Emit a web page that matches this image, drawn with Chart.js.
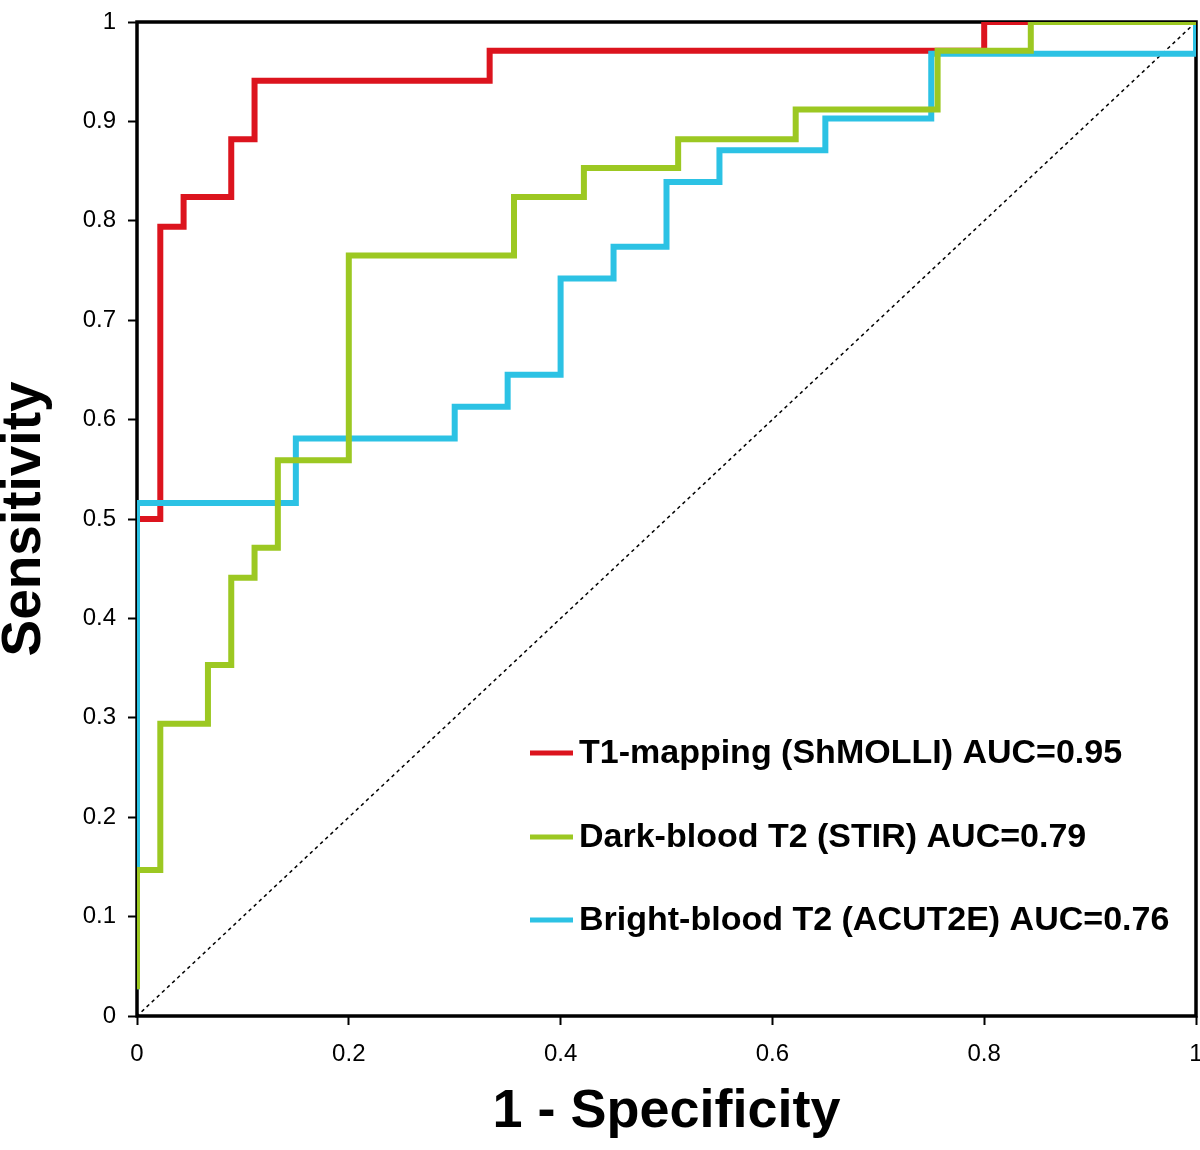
<!DOCTYPE html>
<html>
<head>
<meta charset="utf-8">
<script src="https://cdn.jsdelivr.net/npm/chart.js@4"></script>
<style>
  body { margin: 0; background: #fff; }
  #wrap { width: 1200px; height: 1150px; position: relative; }
</style>
</head>
<body>
<div id="wrap"><canvas id="roc-chart"></canvas></div>
<script>
// Series labels (legend)
const seriesLabels = [
    'T1-mapping (ShMOLLI) AUC=0.95',
    'Dark-blood T2 (STIR) AUC=0.79',
    'Bright-blood T2 (ACUT2E) AUC=0.76'
];

// ROC points, 1 - specificity (x) and sensitivity (y)
const t1X = [0, 0.022, 0.044, 0.089, 0.111, 0.333, 0.8, 1];
const t1Y = [0.5, 0.794, 0.824, 0.882, 0.941, 0.971, 1, 1];

const stirX = [0, 0, 0.022, 0.067, 0.089, 0.111, 0.133, 0.2, 0.356, 0.422, 0.511, 0.622, 0.756, 0.844, 1];
const stirY = [0.03, 0.147, 0.294, 0.353, 0.441, 0.471, 0.559, 0.765, 0.824, 0.853, 0.882, 0.912, 0.971, 1, 1];

const acutX = [0, 0, 0.15, 0.3, 0.35, 0.4, 0.45, 0.5, 0.55, 0.65, 0.75, 1, 1];
const acutY = [0.03, 0.516, 0.581, 0.613, 0.645, 0.742, 0.774, 0.839, 0.871, 0.903, 0.968, 0.968, 1];

// reference diagonal
const diagX = [0, 1];
const diagY = [0, 1];

// Tick labels
const xTickLabels = ['0', '0.2', '0.4', '0.6', '0.8', '1'];
const yTickLabels = ['0', '0.1', '0.2', '0.3', '0.4', '0.5', '0.6', '0.7', '0.8', '0.9', '1'];

const seriesColors = ['#dc141e', '#9cc822', '#2cc2e4'];

function toPoints(xs, ys) {
    return xs.map((x, i) => ({ x: x, y: ys[i] }));
}

// black frame round the plot area
const framePlugin = {
    id: 'frame',
    beforeDatasetsDraw(chart) {
        const { ctx, chartArea } = chart;
        ctx.save();
        ctx.strokeStyle = '#000';
        ctx.lineWidth = 3.5;
        ctx.strokeRect(chartArea.left, chartArea.top, chartArea.right - chartArea.left, chartArea.bottom - chartArea.top);
        ctx.restore();
    }
};

// legend inside the plot, lower right
const insideLegend = {
    id: 'insideLegend',
    afterDraw(chart) {
        const ctx = chart.ctx;
        const rowsY = [753, 837, 920];
        ctx.save();
        ctx.font = 'bold 34px "Liberation Sans", Arial, sans-serif';
        ctx.textBaseline = 'middle';
        ctx.fillStyle = '#000';
        seriesLabels.forEach((label, i) => {
            ctx.strokeStyle = seriesColors[i];
            ctx.lineWidth = 5;
            ctx.beginPath();
            ctx.moveTo(530, rowsY[i]);
            ctx.lineTo(573, rowsY[i]);
            ctx.stroke();
            ctx.fillText(label, 579, rowsY[i] + 1);
        });
        ctx.restore();
    }
};

const ctx = document.getElementById('roc-chart').getContext('2d');
new Chart(ctx, {
    type: 'line',
    data: {
        datasets: [
            {
                label: seriesLabels[0],
                data: toPoints(t1X, t1Y),
                borderColor: seriesColors[0],
                borderWidth: 6,
                stepped: 'before',
                order: 3
            },
            {
                label: seriesLabels[1],
                data: toPoints(stirX, stirY),
                borderColor: seriesColors[1],
                borderWidth: 6,
                stepped: 'before',
                order: 1
            },
            {
                label: seriesLabels[2],
                data: toPoints(acutX, acutY),
                borderColor: seriesColors[2],
                borderWidth: 6,
                stepped: 'before',
                order: 2
            },
            {
                label: 'diagonal',
                data: toPoints(diagX, diagY),
                borderColor: '#000',
                borderWidth: 1.5,
                borderDash: [2, 5],
                order: 4
            }
        ]
    },
    options: {
        responsive: true,
        maintainAspectRatio: false,
        animation: false,
        layout: { padding: { top: 22, right: 4, left: 0, bottom: 0 } },
        elements: {
            point: { radius: 0, hoverRadius: 0 },
            line: { tension: 0, fill: false, borderCapStyle: 'square', borderJoinStyle: 'miter' }
        },
        plugins: {
            legend: { display: false },
            tooltip: { enabled: false }
        },
        scales: {
            x: {
                type: 'linear',
                min: 0,
                max: 1,
                afterFit: (scale) => {
                    scale.height = 134;
                    scale.paddingLeft = 0;
                    scale.paddingRight = 0;
                },
                afterBuildTicks: (scale) => {
                    scale.ticks = xTickLabels.map(v => ({ value: parseFloat(v) }));
                },
                ticks: {
                    callback: (value, index) => xTickLabels[index],
                    color: '#000',
                    font: { family: '"Liberation Sans", Arial, sans-serif', size: 24 },
                    padding: 15,
                    maxRotation: 0
                },
                grid: {
                    drawOnChartArea: false,
                    drawTicks: true,
                    tickLength: 9,
                    tickColor: '#000',
                    tickWidth: 2
                },
                border: { display: false },
                title: {
                    display: true,
                    text: '1 - Specificity',
                    color: '#000',
                    font: { family: '"Liberation Sans", Arial, sans-serif', size: 54, weight: 'bold', lineHeight: 1 },
                    padding: { top: 0, bottom: 11 }
                }
            },
            y: {
                type: 'linear',
                min: 0,
                max: 1,
                afterFit: (scale) => {
                    scale.width = 137;
                    scale.paddingTop = 0;
                    scale.paddingBottom = 0;
                },
                afterBuildTicks: (scale) => {
                    scale.ticks = yTickLabels.map(v => ({ value: parseFloat(v) }));
                },
                ticks: {
                    callback: (value, index) => yTickLabels[index],
                    color: '#000',
                    font: { family: '"Liberation Sans", Arial, sans-serif', size: 24 },
                    padding: 12
                },
                grid: {
                    drawOnChartArea: false,
                    drawTicks: true,
                    tickLength: 9,
                    tickColor: '#000',
                    tickWidth: 2
                },
                border: { display: false },
                title: {
                    display: true,
                    text: 'Sensitivity',
                    color: '#000',
                    font: { family: '"Liberation Sans", Arial, sans-serif', size: 55, weight: 'bold', lineHeight: 0.9 },
                    padding: { top: 0, bottom: 0 }
                }
            }
        }
    },
    plugins: [framePlugin, insideLegend]
});
</script>
</body>
</html>
